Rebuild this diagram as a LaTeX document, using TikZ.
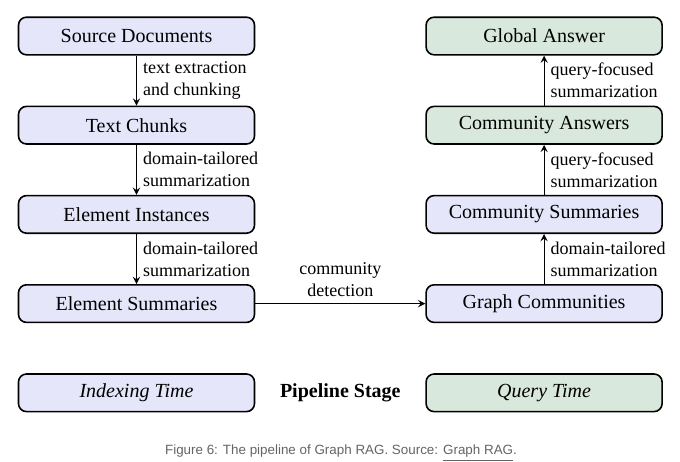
\documentclass[tikz,border=0pt]{standalone}
\usepackage{fontspec}
\setmainfont{Liberation Serif}
\newfontfamily\captionfont{Liberation Sans}
\usetikzlibrary{shapes,arrows,positioning,calc}

\definecolor{indexblue}{RGB}{230,230,250}
\definecolor{querygreen}{RGB}{217,232,220}
\definecolor{captiongray}{RGB}{100,100,100}

\begin{document}
\begin{tikzpicture}[node distance = 25pt, auto, >=stealth]
            % Estilos
            \tikzstyle{block} = [rectangle, draw, thick, fill=indexblue,
            minimum width=118pt, minimum height=18.8pt, text centered, rounded corners=4pt]
            \tikzstyle{answer} = [block, fill=querygreen]
            \tikzstyle{lbl} = [right, align=left, font=\rmfamily\small, inner sep=3pt]
            \tikzstyle{line} = [draw, ->, semithick]

            \useasboundingbox (0,0) rectangle (340pt,-230.5pt);

            % Indexado
            \node [block] (src) at (68.25pt,-18pt) {Source Documents};
            \node [block, below = of src] (chunks) {Text Chunks};
            \node [block, below = of chunks] (inst) {Element Instances};
            \node [block, below = of inst] (esum) {Element Summaries};

            % Consulta
            \node [block, right = 85pt of esum] (gcomm) {Graph Communities};
            \node [block, above = of gcomm] (csum) {Community Summaries};
            \node [answer, above = of csum] (cans) {Community Answers};
            \node [answer, above = of cans] (global) {Global Answer};

            % Leyenda
            \node [block, below = 25pt of esum] (itime) {\itshape Indexing Time};
            \node [answer, below = 25pt of gcomm] (qtime) {\itshape Query Time};
            \node [font=\bfseries] (stage) at ($(itime)!0.5!(qtime)$) {Pipeline Stage};

            \node [font=\captionfont\fontsize{6.7}{8}\selectfont, text=captiongray] (cap) at (170.5pt,-226.5pt)
                {Figure 6: The pipeline of Graph RAG. Source: \underline{Graph RAG}.};

            \path [line] (src) -- node [lbl] {text extraction\\and chunking} (chunks);
            \path [line] (chunks) -- node [lbl] {domain-tailored\\summarization} (inst);
            \path [line] (inst) -- node [lbl] {domain-tailored\\summarization} (esum);
            \path [line] (esum) -- node [above, align=center, font=\rmfamily\small] {community\\detection} (gcomm);
            \path [line] (gcomm) -- node [lbl] {domain-tailored\\summarization} (csum);
            \path [line] (csum) -- node [lbl] {query-focused\\summarization} (cans);
            \path [line] (cans) -- node [lbl] {query-focused\\summarization} (global);
      \end{tikzpicture}
\end{document}
